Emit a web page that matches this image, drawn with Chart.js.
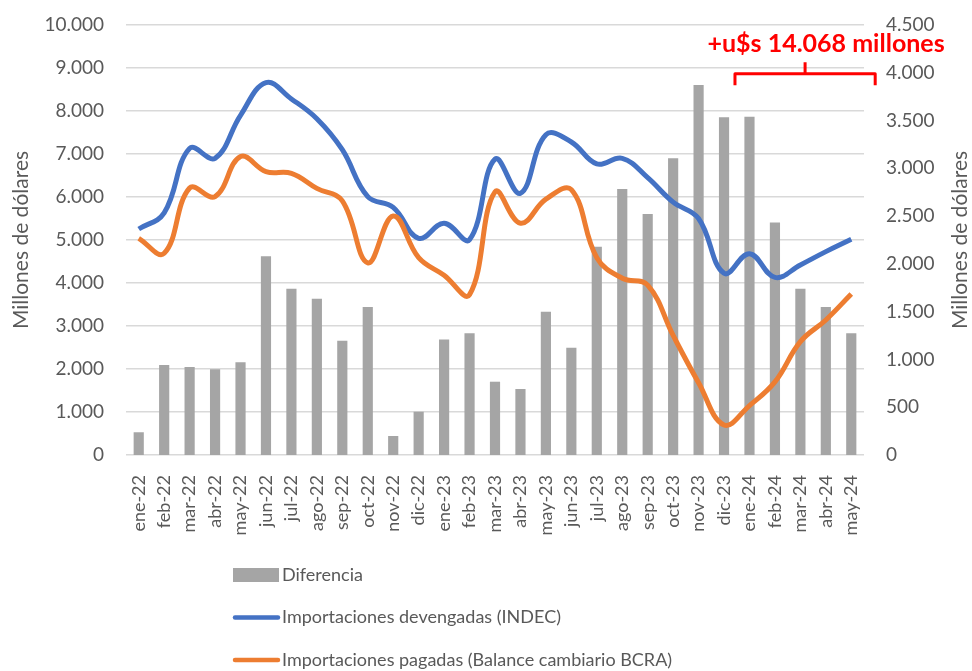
<!DOCTYPE html>
<html lang="es">
<head>
  <meta charset="UTF-8" />
  <title>Importaciones devengadas vs pagadas</title>
  <script src="https://cdn.jsdelivr.net/npm/chart.js"></script>
  <style>
    body { margin: 0; background: #ffffff; }
    #wrap { position: relative; width: 972px; height: 671px; }
  </style>
</head>
<body>
  <div id="wrap"><canvas id="chart"></canvas></div>

  <script>
    const categories = ['ene-22','feb-22','mar-22','abr-22','may-22','jun-22','jul-22','ago-22','sep-22','oct-22','nov-22','dic-22',
      'ene-23','feb-23','mar-23','abr-23','may-23','jun-23','jul-23','ago-23','sep-23','oct-23','nov-23','dic-23',
      'ene-24','feb-24','mar-24','abr-24','may-24'];

    // diferencia va contra el eje derecho
    const diferencia = [238, 942, 921, 897, 970, 2079, 1740, 1634, 1196, 1549, 199, 453,
      1210, 1273, 767, 691, 1500, 1123, 2180, 2783, 2522, 3105, 3872, 3534,
      3540, 2432, 1740, 1549, 1273];

    const indec = [5256, 5630, 7130, 6900, 7900, 8660, 8280, 7820, 7100, 6008, 5760, 5040,
      5390, 5010, 6880, 6087, 7450, 7280, 6770, 6900, 6450, 5880, 5500, 4226,
      4680, 4130, 4420, 4730, 5017];

    const pagadas = [5040, 4690, 6210, 6010, 6940, 6590, 6550, 6200, 5910, 4470, 5560, 4590,
      4180, 3730, 6120, 5390, 5950, 6170, 4590, 4110, 3950, 2780, 1680, 698,
      1150, 1700, 2636, 3140, 3745];

    const annotationText = '+u$s 14.068 millones';
    const axisTitle = 'Millones de dólares';

    const FONT = 'Lato, "Open Sans", sans-serif';
    const GREY = '#595959';

    function miles(v) {
      return String(v).replace(/\B(?=(\d{3})+(?!\d))/g, '.');
    }

    // el padding de ticks no debe empujar el area hacia abajo
    function fitY(width) {
      return s => {
        s.width = width;
        s.paddingTop = 0;
        s.paddingBottom = 0;
      };
    }

    // leyenda apilada, titulo derecho y la llave roja
    const extras = {
      id: 'extras',
      afterDraw(chart) {
        const ctx = chart.ctx;
        const area = chart.chartArea;
        const xs = chart.scales.x;
        const y1 = chart.scales.y1;
        const step = xs.getPixelForValue(1) - xs.getPixelForValue(0);

        ctx.save();

        // titulo eje derecho (leido de abajo hacia arriba)
        ctx.fillStyle = GREY;
        ctx.font = '21px ' + FONT;
        ctx.textAlign = 'center';
        ctx.textBaseline = 'middle';
        ctx.translate(960, (area.top + area.bottom) / 2);
        ctx.rotate(-Math.PI / 2);
        ctx.fillText(axisTitle, 0, 0);
        ctx.setTransform(1, 0, 0, 1, 0, 0);

        // llave
        const xl = xs.getPixelForValue(23) + step * 0.43;
        const xr = xs.getPixelForValue(28) + step * 0.94;
        const xm = (xl + xr) / 2;
        const yLine = y1.getPixelForValue(3990);
        const yEnd = y1.getPixelForValue(3870);
        const yTick = y1.getPixelForValue(4110);
        ctx.strokeStyle = '#FF0000';
        ctx.lineWidth = 3;
        ctx.lineJoin = 'round';
        ctx.beginPath();
        ctx.moveTo(xl, yEnd);
        ctx.lineTo(xl, yLine);
        ctx.lineTo(xr, yLine);
        ctx.lineTo(xr, yEnd);
        ctx.moveTo(xm, yLine);
        ctx.lineTo(xm, yTick);
        ctx.stroke();

        ctx.fillStyle = '#FF0000';
        ctx.font = 'bold 25px ' + FONT;
        ctx.textAlign = 'center';
        ctx.fillText(annotationText, xm + 21, y1.getPixelForValue(4300));

        // leyenda
        ctx.font = '18px ' + FONT;
        ctx.textAlign = 'left';
        chart.data.datasets.forEach((ds, i) => {
          const cy = 575 + i * 42.5;
          if (ds.type === 'bar') {
            ctx.fillStyle = ds.backgroundColor;
            ctx.fillRect(233, cy - 7, 46, 14);
          } else {
            ctx.strokeStyle = ds.borderColor;
            ctx.lineWidth = 4.5;
            ctx.lineCap = 'round';
            ctx.beginPath();
            ctx.moveTo(235, cy);
            ctx.lineTo(278, cy);
            ctx.stroke();
          }
          ctx.fillStyle = GREY;
          ctx.fillText(ds.label, 282, cy);
        });

        ctx.restore();
      }
    };

    new Chart(document.getElementById('chart'), {
      data: {
        labels: categories,
        datasets: [
          {
            type: 'bar',
            label: 'Diferencia',
            data: diferencia,
            backgroundColor: '#A5A5A5',
            yAxisID: 'y1',
            barPercentage: 0.4,
            categoryPercentage: 1,
            order: 3
          },
          {
            type: 'line',
            label: 'Importaciones devengadas (INDEC)',
            data: indec,
            borderColor: '#4472C4',
            borderWidth: 5,
            pointRadius: 0,
            tension: 0.4,
            fill: false,
            yAxisID: 'y',
            order: 2
          },
          {
            type: 'line',
            label: 'Importaciones pagadas (Balance cambiario BCRA)',
            data: pagadas,
            borderColor: '#ED7D31',
            borderWidth: 5,
            pointRadius: 0,
            tension: 0.4,
            fill: false,
            yAxisID: 'y',
            order: 1
          }
        ]
      },
      options: {
        responsive: true,
        maintainAspectRatio: false,
        animation: false,
        layout: { padding: { top: 25, bottom: 130, left: 0, right: 0 } },
        plugins: {
          legend: { display: false },
          tooltip: { enabled: false }
        },
        scales: {
          x: {
            grid: { display: false },
            border: { display: false },
            ticks: {
              color: GREY,
              font: { family: FONT, size: 18 },
              minRotation: 90,
              maxRotation: 90,
              padding: 12,
              autoSkip: false
            },
            afterFit(s) { s.height = 671 - 130 - 455; }
          },
          y: {
            position: 'left',
            min: 0,
            max: 10000,
            ticks: {
              stepSize: 1000,
              color: GREY,
              font: { family: FONT, size: 19 },
              padding: 22,
              callback: v => miles(v)
            },
            grid: { color: '#D9D9D9', lineWidth: 1.5, drawTicks: false },
            border: { display: false },
            title: {
              display: true,
              text: axisTitle,
              color: GREY,
              font: { family: FONT, size: 21 },
              padding: { top: 9, bottom: 0 }
            },
            afterFit: fitY(126)
          },
          y1: {
            position: 'right',
            min: 0,
            max: 4500,
            ticks: {
              stepSize: 500,
              color: GREY,
              font: { family: FONT, size: 19 },
              padding: 22,
              callback: v => miles(v)
            },
            grid: { display: false, drawTicks: false },
            border: { display: false },
            afterFit: fitY(108)
          }
        }
      },
      plugins: [extras]
    });
  </script>
</body>
</html>
